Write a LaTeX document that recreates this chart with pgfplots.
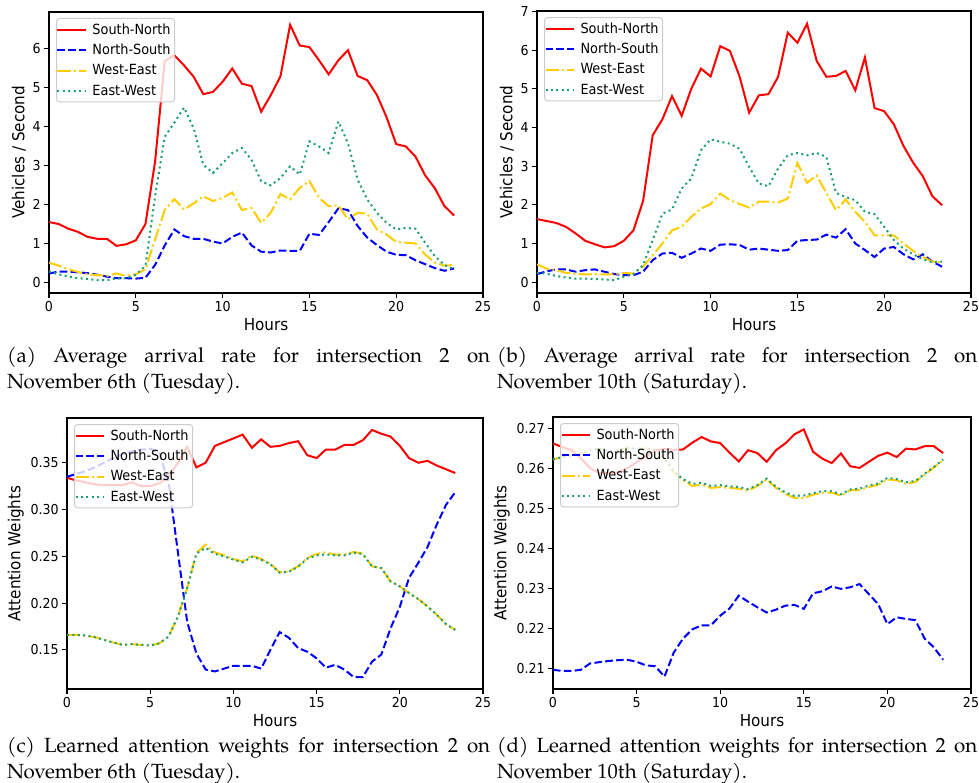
\documentclass[border=0pt]{standalone}
\usepackage{pgfplots}
\pgfplotsset{compat=1.18}
\usepackage{pgfplotstable}
\usepackage{fontspec}
\setmainfont{DejaVu Sans}[FakeStretch=0.92]
\newfontfamily\capfont{TeX Gyre Pagella}
\definecolor{cgold}{RGB}{255,204,0}
\definecolor{cgreen}{RGB}{27,158,119}

\pgfplotstableread{
x sn ns we ew
0 1.55 0.23 0.51 0.28
0.556 1.50 0.28 0.43 0.21
1.111 1.38 0.28 0.34 0.15
1.667 1.30 0.26 0.27 0.11
2.222 1.17 0.24 0.21 0.09
2.778 1.12 0.20 0.19 0.06
3.333 1.12 0.15 0.17 0.06
3.889 0.94 0.11 0.23 0.10
4.444 0.98 0.11 0.17 0.11
5.0 1.08 0.10 0.21 0.20
5.556 1.50 0.12 0.34 0.43
6.111 3.10 0.45 1.10 2.21
6.667 5.68 0.95 1.86 3.74
7.222 5.83 1.36 2.14 4.10
7.778 5.57 1.19 1.87 4.49
8.333 5.28 1.12 2.03 3.96
8.889 4.83 1.12 2.21 3.02
9.444 4.89 1.05 2.09 2.81
10.0 5.15 1.00 2.17 3.06
10.556 5.49 1.17 2.31 3.32
11.111 5.10 1.28 1.86 3.45
11.667 5.04 0.95 1.91 3.15
12.222 4.38 0.79 1.53 2.60
12.778 4.81 0.77 1.79 2.49
13.333 5.29 0.82 2.27 2.68
13.889 6.61 0.81 2.13 2.98
14.444 6.08 0.81 2.43 2.77
15.0 6.04 1.25 2.60 3.62
15.556 5.70 1.22 2.17 3.49
16.111 5.34 1.55 1.96 3.32
16.667 5.70 1.90 1.98 4.13
17.222 5.96 1.86 1.62 3.57
17.778 5.30 1.45 1.79 2.64
18.333 5.19 1.15 1.76 2.13
18.889 4.81 0.96 1.36 1.79
19.444 4.24 0.79 1.23 1.53
20.0 3.55 0.71 1.04 1.36
20.556 3.49 0.70 1.02 1.40
21.111 3.23 0.57 1.00 1.38
21.667 2.75 0.47 0.72 1.02
22.222 2.42 0.37 0.51 0.68
22.778 1.96 0.30 0.43 0.45
23.333 1.72 0.36 0.45 0.34
}\dataA

\pgfplotstableread{
x sn ns we ew
0 1.63 0.21 0.46 0.24
0.556 1.58 0.28 0.35 0.22
1.111 1.53 0.33 0.31 0.16
1.667 1.43 0.33 0.24 0.12
2.222 1.26 0.27 0.22 0.09
2.778 1.07 0.31 0.20 0.09
3.333 0.98 0.33 0.21 0.08
3.889 0.90 0.27 0.20 0.07
4.444 0.93 0.21 0.20 0.05
5.0 1.07 0.18 0.24 0.14
5.556 1.34 0.18 0.22 0.21
6.111 2.10 0.27 0.40 0.44
6.667 3.80 0.57 0.70 1.09
7.222 4.21 0.74 1.00 1.77
7.778 4.81 0.76 1.34 1.88
8.333 4.30 0.63 1.43 2.42
8.889 5.00 0.74 1.69 2.68
9.444 5.52 0.87 1.90 3.41
10.0 5.32 0.81 2.02 3.69
10.556 6.10 0.97 2.29 3.63
11.111 5.98 0.98 2.12 3.58
11.667 5.32 0.96 2.02 3.45
12.222 4.38 0.84 1.93 2.98
12.778 4.83 0.87 2.08 2.55
13.333 4.86 0.84 2.08 2.48
13.889 5.31 0.81 2.06 2.94
14.444 6.45 0.83 2.16 3.28
15.0 6.19 1.07 3.08 3.34
15.556 6.68 1.09 2.57 3.28
16.111 5.72 1.10 2.76 3.34
16.667 5.31 1.23 2.31 3.24
17.222 5.33 1.15 1.86 2.31
17.778 5.46 1.37 2.14 2.20
18.333 4.96 1.00 1.82 2.12
18.889 5.81 0.83 1.56 1.82
19.444 4.50 0.65 1.21 1.76
20.0 4.42 0.87 1.21 1.43
20.556 4.08 0.91 1.21 1.09
21.111 3.52 0.72 1.00 0.87
21.667 3.09 0.59 0.81 0.72
22.222 2.74 0.72 0.65 0.59
22.778 2.22 0.53 0.53 0.52
23.333 1.99 0.40 0.51 0.53
}\dataB

\pgfplotstableread{
x sn ns we ew
0 0.334 0.335 0.1660 0.1660
0.556 0.331 0.338 0.1660 0.1660
1.111 0.329 0.341 0.1654 0.1654
1.667 0.327 0.345 0.1636 0.1636
2.222 0.326 0.350 0.1607 0.1607
2.778 0.326 0.355 0.1579 0.1579
3.333 0.326 0.359 0.1554 0.1554
3.889 0.329 0.362 0.1561 0.1561
4.444 0.325 0.364 0.1554 0.1554
5.0 0.325 0.365 0.1546 0.1546
5.556 0.328 0.360 0.1571 0.1571
6.111 0.335 0.329 0.1643 0.1643
6.667 0.350 0.254 0.1857 0.1857
7.222 0.367 0.180 0.2161 0.2161
7.778 0.345 0.146 0.2536 0.2530
8.333 0.350 0.129 0.2625 0.2590
8.889 0.368 0.127 0.2543 0.2525
9.444 0.372 0.130 0.2511 0.2500
10.0 0.376 0.133 0.2471 0.2465
10.556 0.380 0.133 0.2446 0.2435
11.111 0.366 0.133 0.2507 0.2495
11.667 0.375 0.130 0.2471 0.2465
12.222 0.367 0.150 0.2418 0.2415
12.778 0.368 0.169 0.2329 0.2325
13.333 0.371 0.163 0.2339 0.2335
13.889 0.373 0.152 0.2393 0.2390
14.444 0.358 0.148 0.2482 0.2475
15.0 0.355 0.141 0.2525 0.2510
15.556 0.364 0.131 0.2543 0.2520
16.111 0.364 0.134 0.2518 0.2510
16.667 0.369 0.129 0.2518 0.2510
17.222 0.369 0.121 0.2546 0.2540
17.778 0.374 0.121 0.2529 0.2525
18.333 0.385 0.1375 0.2393 0.2390
18.889 0.381 0.145 0.2375 0.2375
19.444 0.378 0.173 0.2232 0.2232
20.0 0.368 0.196 0.2179 0.2179
20.556 0.355 0.227 0.2107 0.2107
21.111 0.350 0.243 0.2043 0.2043
21.667 0.352 0.260 0.1964 0.1964
22.222 0.347 0.284 0.1875 0.1875
22.778 0.343 0.305 0.1775 0.1775
23.333 0.339 0.3186 0.1714 0.1714
}\dataC

\pgfplotstableread{
x sn ns we ew
0 0.2662 0.2097 0.2622 0.2622
0.556 0.2653 0.2094 0.2628 0.2628
1.111 0.2645 0.2094 0.2631 0.2631
1.667 0.2625 0.2097 0.2637 0.2637
2.222 0.2600 0.2113 0.2645 0.2645
2.778 0.2588 0.2116 0.2649 0.2649
3.333 0.2588 0.2119 0.2642 0.2642
3.889 0.2590 0.2121 0.2645 0.2645
4.444 0.2600 0.2122 0.2651 0.2651
5.0 0.2615 0.2117 0.2649 0.2649
5.556 0.2630 0.2108 0.2649 0.2649
6.111 0.2645 0.2106 0.2645 0.2645
6.667 0.2648 0.2080 0.2624 0.2625
7.222 0.2646 0.2140 0.2589 0.2592
7.778 0.2647 0.2175 0.2570 0.2573
8.333 0.2664 0.2198 0.2556 0.2561
8.889 0.2678 0.2208 0.2559 0.2564
9.444 0.2667 0.2208 0.2551 0.2556
10.0 0.2663 0.2232 0.2553 0.2558
10.556 0.2639 0.2250 0.2551 0.2555
11.111 0.2617 0.2282 0.2549 0.2553
11.667 0.2645 0.2267 0.2544 0.2548
12.222 0.2638 0.2253 0.2556 0.2558
12.778 0.2616 0.2240 0.2572 0.2574
13.333 0.2645 0.2247 0.2551 0.2554
13.889 0.2662 0.2257 0.2536 0.2540
14.444 0.2685 0.2259 0.2526 0.2531
15.0 0.2697 0.2249 0.2526 0.2532
15.556 0.2641 0.2288 0.2534 0.2538
16.111 0.2624 0.2293 0.2539 0.2543
16.667 0.2613 0.2305 0.2539 0.2543
17.222 0.2637 0.2299 0.2532 0.2535
17.778 0.2605 0.2303 0.2545 0.2547
18.333 0.2601 0.2311 0.2546 0.2549
18.889 0.2616 0.2286 0.2553 0.2557
19.444 0.2631 0.2261 0.2559 0.2562
20.0 0.2639 0.2211 0.2572 0.2576
20.556 0.2628 0.2228 0.2570 0.2573
21.111 0.2649 0.2224 0.2561 0.2565
21.667 0.2647 0.2221 0.2566 0.2568
22.222 0.2655 0.2175 0.2584 0.2586
22.778 0.2655 0.2153 0.2602 0.2603
23.333 0.2638 0.2122 0.2620 0.2622
}\dataD

\pgfplotsset{
 panel/.style={
  scale only axis, xmin=0, xmax=25, xtick={0,5,10,15,20,25},
  tick align=outside, xtick pos=left, ytick pos=left,
  major tick length=4.8pt,
  tick style={black, line width=1.1pt},
  axis line style={black, line width=1.1pt},
  ticklabel style={font=\fontsize{13.7}{16}\selectfont},
  label style={font=\fontsize{16.5}{20}\selectfont},
  xlabel={Hours},
  /pgf/number format/assume math mode=true,
  legend cell align=left,
  legend image code/.code={\draw[#1] (0pt,0pt) -- (28pt,0pt);},
  legend style={at={(0,1)}, anchor=north west, xshift=7pt, yshift=-6pt,
    draw=black!20, line width=1pt, rounded corners=3pt, fill=white,
    fill opacity=0.8, draw opacity=1, text opacity=1,
    font=\fontsize{14}{17}\selectfont, inner xsep=0pt, inner ysep=1pt,
    row sep=0pt, column sep=2pt,
    nodes={font=\fontsize{14}{17}\selectfont, inner xsep=4pt, inner ysep=4.2pt}},
 },
 sn/.style={red, line width=2pt},
 ns/.style={blue, line width=2pt, dash pattern=on 7.6pt off 3.3pt},
 we/.style={cgold, line width=2pt, dash pattern=on 13pt off 3.3pt on 2pt off 3.3pt},
 ew/.style={cgreen, line width=2pt, dash pattern=on 2pt off 3.4pt},
}

\begin{document}
\begin{tikzpicture}[x=1pt,y=1pt]
\useasboundingbox (0,0) rectangle (979,-783);

\begin{axis}[panel, at={(49pt,-293pt)}, anchor=south west, width=434pt, height=281pt,
  ymin=-0.27, ymax=6.94, ytick={0,1,2,3,4,5,6}, ylabel={Vehicles / Second}]
\addplot[sn] table[x=x,y=sn]{\dataA};
\addplot[ns] table[x=x,y=ns]{\dataA};
\addplot[we] table[x=x,y=we]{\dataA};
\addplot[ew] table[x=x,y=ew]{\dataA};
\legend{South-North,North-South,West-East,East-West}
\end{axis}

\begin{axis}[panel, at={(537pt,-293pt)}, anchor=south west, width=434pt, height=282pt,
  ymin=-0.28, ymax=7.01, ytick={0,1,2,3,4,5,6,7}, ylabel={Vehicles / Second}]
\addplot[sn] table[x=x,y=sn]{\dataB};
\addplot[ns] table[x=x,y=ns]{\dataB};
\addplot[we] table[x=x,y=we]{\dataB};
\addplot[ew] table[x=x,y=ew]{\dataB};
\legend{South-North,North-South,West-East,East-West}
\end{axis}

\begin{axis}[panel, at={(67pt,-689pt)}, anchor=south west, width=416pt, height=271pt,
  ymin=0.1082, ymax=0.3978, ytick={0.15,0.20,0.25,0.30,0.35},
  yticklabel style={/pgf/number format/.cd, fixed, fixed zerofill, precision=2},
  ylabel={Attention Weights}]
\addplot[sn] table[x=x,y=sn]{\dataC};
\addplot[ns] table[x=x,y=ns]{\dataC};
\addplot[we] table[x=x,y=we]{\dataC};
\addplot[ew] table[x=x,y=ew]{\dataC};
\legend{South-North,North-South,West-East,East-West}
\end{axis}

\begin{axis}[panel, at={(553pt,-689pt)}, anchor=south west, width=418pt, height=272pt,
  ymin=0.2049, ymax=0.2728, ytick={0.21,0.22,0.23,0.24,0.25,0.26,0.27},
  yticklabel style={/pgf/number format/.cd, fixed, fixed zerofill, precision=2},
  ylabel={Attention Weights}]
\addplot[sn] table[x=x,y=sn]{\dataD};
\addplot[ns] table[x=x,y=ns]{\dataD};
\addplot[we] table[x=x,y=we]{\dataD};
\addplot[ew] table[x=x,y=ew]{\dataD};
\legend{South-North,North-South,West-East,East-West}
\end{axis}

\tikzset{mycap/.style={anchor=base west, inner sep=0pt, font=\capfont\fontsize{20.5}{25}\selectfont}}
\node[mycap] at (7,-362) {\makebox[483pt][s]{(a) Average arrival rate for intersection 2 on}};
\node[mycap] at (7,-388) {November 6th (Tuesday).};
\node[mycap] at (497,-362) {\makebox[480pt][s]{(b) Average arrival rate for intersection 2 on}};
\node[mycap] at (497,-388) {November 10th (Saturday).};
\node[mycap] at (7,-752) {\makebox[483pt][s]{(c) Learned attention weights for intersection 2 on}};
\node[mycap] at (7,-778) {November 6th (Tuesday).};
\node[mycap] at (497,-752) {\makebox[480pt][s]{(d) Learned attention weights for intersection 2 on}};
\node[mycap] at (497,-778) {November 10th (Saturday).};
\end{tikzpicture}
\end{document}
